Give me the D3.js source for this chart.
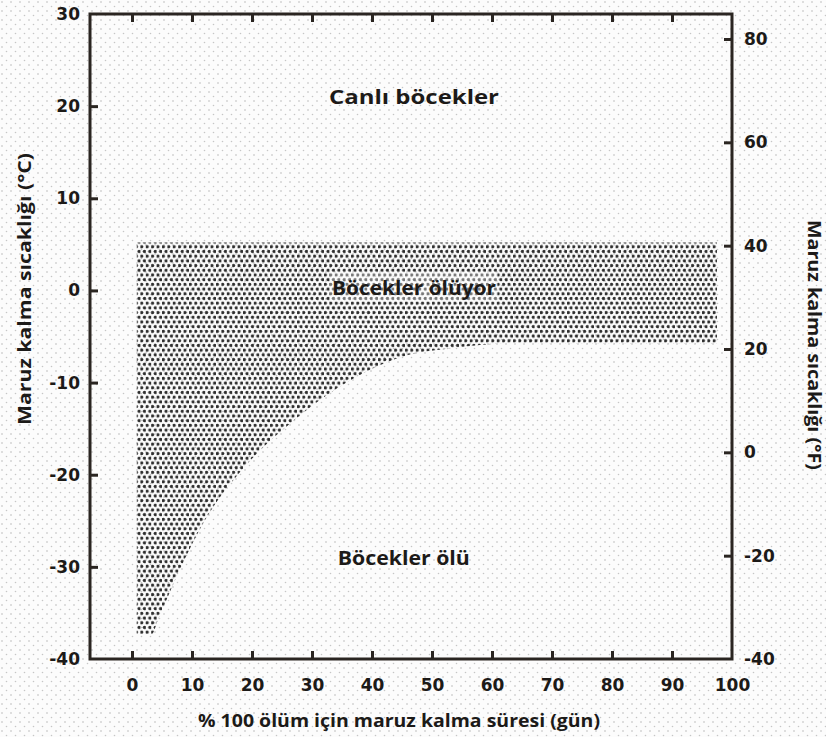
<!DOCTYPE html>
<html>
<head>
<meta charset="utf-8">
<script src="https://cdn.jsdelivr.net/npm/d3@7"></script>
<style>
  body { margin: 0; background: #fff; }
  svg text { fill: #1c1a18; }
</style>
</head>
<body>
<svg id="chart"></svg>
<script>
// values
const dayTicks = [0, 10, 20, 30, 40, 50, 60, 70, 80, 90, 100];
const celsiusTicks = [-40, -30, -20, -10, 0, 10, 20, 30];
const fahrenheitTicks = [-40, -20, 0, 20, 40, 60, 80];

// "Böcekler ölüyor" band: upper limit and lower (lethal) boundary
const zoneTop = 5.2;
const boundaryDays = [0.8, 3.3, 4.3, 7.9, 12.2, 18.3, 27, 38.5, 46, 53, 64, 80, 97.5];
const boundaryTemps = [-37.3, -37.3, -35.8, -30.4, -24.9, -19.5, -14.1, -9, -7, -6.3, -5.7, -5.8, -5.8];

const zoneNames = ['Canlı böcekler', 'Böcekler ölüyor', 'Böcekler ölü'];

const width = 826;
const height = 737;

const svg = d3.select('#chart')
    .attr('width', width)
    .attr('height', height);

const defs = svg.append('defs');

// light stipple used as the paper background
const paper = defs.append('pattern')
    .attr('id', 'paper')
    .attr('patternUnits', 'userSpaceOnUse')
    .attr('width', 9)
    .attr('height', 9);
paper.append('circle').attr('cx', 2).attr('cy', 2).attr('r', 0.8).attr('fill', '#b8b8b8');
paper.append('circle').attr('cx', 6.5).attr('cy', 6.5).attr('r', 0.8).attr('fill', '#c6c6c6');

// dense dot screen for the dying zone
const screen = defs.append('pattern')
    .attr('id', 'screen')
    .attr('patternUnits', 'userSpaceOnUse')
    .attr('width', 5.4)
    .attr('height', 9.4);
screen.append('circle').attr('cx', 1.35).attr('cy', 2.35).attr('r', 1.65).attr('fill', '#2e2e2e');
screen.append('circle').attr('cx', 4.05).attr('cy', 7.05).attr('r', 1.65).attr('fill', '#2e2e2e');

svg.append('rect')
    .attr('width', width)
    .attr('height', height)
    .attr('fill', '#fcfcfc');
svg.append('rect')
    .attr('width', width)
    .attr('height', height)
    .attr('fill', 'url(#paper)');

const x = d3.scaleLinear().domain([-7, 100]).range([90, 732]);
const yC = d3.scaleLinear().domain([-40, 30]).range([659, 14]);
const yF = d3.scaleLinear().domain([-40, 80]).range([659, 39]);

const boundary = boundaryDays.map((d, i) => ({ day: d, temp: boundaryTemps[i] }));

const area = d3.area()
    .x(d => x(d.day))
    .y0(d => yC(d.temp))
    .y1(() => yC(zoneTop))
    .curve(d3.curveMonotoneX);

svg.append('path')
    .datum(boundary)
    .attr('d', area)
    .attr('fill', 'url(#screen)');

// frame
svg.append('rect')
    .attr('x', x(-7))
    .attr('y', yC(30))
    .attr('width', x(100) - x(-7))
    .attr('height', yC(-40) - yC(30))
    .attr('fill', 'none')
    .attr('stroke', '#2a2521')
    .attr('stroke-width', 3);

const tickStyle = g => {
    g.select('.domain').remove();
    g.selectAll('line').attr('stroke', '#2a2521').attr('stroke-width', 3);
    g.selectAll('text')
        .attr('font-family', '"DejaVu Sans", sans-serif')
        .attr('font-weight', 'bold')
        .attr('font-size', 17)
        .style('fill', '#1c1a18');
};

svg.append('g')
    .attr('transform', `translate(0,${yC(-40)})`)
    .call(d3.axisBottom(x).tickValues(dayTicks).tickSizeInner(-8).tickSizeOuter(0).tickPadding(20))
    .call(tickStyle)
    .call(g => g.selectAll('.tick').filter(d => d === 100).select('line').remove());

svg.append('g')
    .attr('transform', `translate(0,${yC(30)})`)
    .call(d3.axisTop(x).tickValues(dayTicks.filter(d => d < 100)).tickSizeInner(-8).tickSizeOuter(0).tickFormat(''))
    .call(tickStyle);

svg.append('g')
    .attr('transform', `translate(${x(-7)},0)`)
    .call(d3.axisLeft(yC).tickValues(celsiusTicks).tickSizeInner(-8).tickSizeOuter(0).tickPadding(10))
    .call(tickStyle)
    .call(g => g.selectAll('.tick').filter(d => d === 30 || d === -40).select('line').remove())
    .call(g => g.selectAll('text').text(d => d < 0 ? '-' + Math.abs(d) : d));

svg.append('g')
    .attr('transform', `translate(${x(100)},0)`)
    .call(d3.axisRight(yF).tickValues(fahrenheitTicks).tickSizeInner(-8).tickSizeOuter(0).tickPadding(12))
    .call(tickStyle)
    .call(g => g.selectAll('.tick').filter(d => d === -40).select('line').remove())
    .call(g => g.selectAll('text').text(d => d < 0 ? '-' + Math.abs(d) : d));

// axis titles
const titleFont = sel => sel
    .attr('font-family', '"Open Sans", sans-serif')
    .attr('font-weight', 'bold')
    .attr('font-size', 18);

svg.append('text')
    .attr('transform', 'translate(31,289) rotate(-90)')
    .attr('text-anchor', 'middle')
    .attr('textLength', 272)
    .attr('lengthAdjust', 'spacingAndGlyphs')
    .call(titleFont)
    .text('Maruz kalma sıcaklığı (°C)');

svg.append('text')
    .attr('transform', 'translate(808,345) rotate(90)')
    .attr('text-anchor', 'middle')
    .attr('textLength', 250)
    .attr('lengthAdjust', 'spacingAndGlyphs')
    .call(titleFont)
    .text('Maruz kalma sıcaklığı (°F)');

svg.append('text')
    .attr('x', 399)
    .attr('y', 727)
    .attr('text-anchor', 'middle')
    .attr('textLength', 402)
    .attr('lengthAdjust', 'spacingAndGlyphs')
    .call(titleFont)
    .text('% 100 ölüm için maruz kalma süresi (gün)');

// zone labels
const zoneDay = [47, 47, 45.3];
const zoneTemp = [21, 0.3, -29];
const zoneWidth = [170, 164, 132];

svg.append('rect')
    .attr('x', x(47) - 84)
    .attr('y', yC(0.3) - 16)
    .attr('width', 168)
    .attr('height', 30)
    .attr('fill', '#fff')
    .attr('opacity', 0.35);

svg.selectAll('.zone')
    .data(zoneNames)
    .enter().append('text')
    .attr('class', 'zone')
    .attr('x', (d, i) => x(zoneDay[i]))
    .attr('y', (d, i) => yC(zoneTemp[i]))
    .attr('dy', '0.36em')
    .attr('text-anchor', 'middle')
    .attr('textLength', (d, i) => zoneWidth[i])
    .attr('lengthAdjust', 'spacingAndGlyphs')
    .attr('font-family', '"Open Sans", sans-serif')
    .attr('font-weight', 'bold')
    .attr('font-size', 20)
    .text(d => d);
</script>
</body>
</html>
